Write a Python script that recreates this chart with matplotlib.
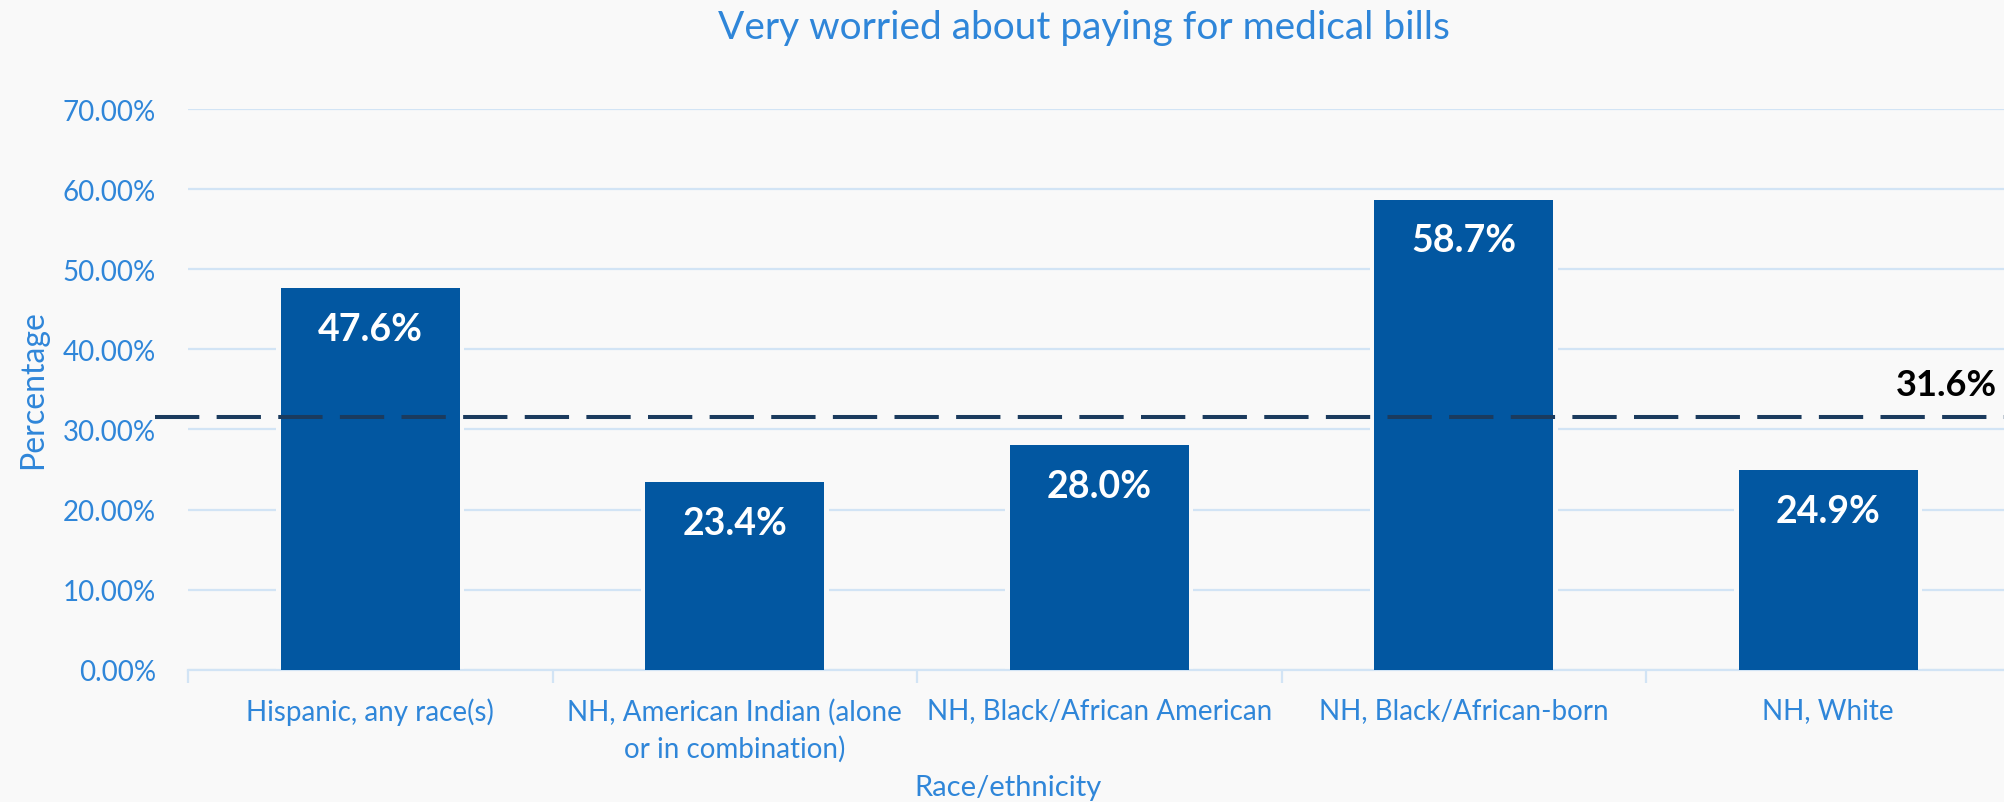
import matplotlib
matplotlib.use("Agg")
import matplotlib.pyplot as plt
from matplotlib.transforms import blended_transform_factory
from matplotlib.lines import Line2D
import numpy as np

categories = ["Hispanic, any race(s)",
              "NH, American Indian (alone\nor in combination)",
              "NH, Black/African American",
              "NH, Black/African-born",
              "NH, White"]
values = [47.6, 23.4, 28.0, 58.7, 24.9]
average = 31.6
yticks = [0, 10, 20, 30, 40, 50, 60, 70]

title = "Very worried about paying for medical bills"
xlabel = "Race/ethnicity"
ylabel = "Percentage"

BG = "#F9F9F9"
BAR = "#0257A1"
TXT = "#2F86D9"
GRID = "#D2E4F5"
DASH = "#1B3B5E"

plt.rcParams['font.family'] = ['Lato', 'DejaVu Sans']

W, H = 2004, 803
fig = plt.figure(figsize=(W / 100, H / 100), dpi=100, facecolor=BG)
ax = fig.add_axes([188 / W, 1 - 670.7 / H, 1822.5 / W, (670.7 - 110) / H])
ax.set_facecolor(BG)

x = np.arange(len(categories))
ax.bar(x, values, width=0.515, color=BG, zorder=2)
bars = ax.bar(x, values, width=0.49, color=BAR, zorder=3)

for xi, v in zip(x, values):
    ax.annotate(f"{v:.1f}%", (xi, v), xytext=(0, -29), textcoords="offset points",
                ha="center", va="center", color="white", fontsize=27, fontweight="bold", zorder=5)

ax.set_xlim(-0.5, len(categories) - 0.5)
ax.set_ylim(0, 70)
ax.set_yticks(yticks)
ax.set_yticklabels([f"{t:.2f}%" for t in yticks])
ax.yaxis.grid(True, color=GRID, linewidth=1.6, zorder=0)
ax.set_axisbelow(True)

ax.set_xticks(x)
ax.set_xticklabels(categories)
ax.set_xticks(np.arange(-0.5, len(categories)), minor=True)
ax.tick_params(axis="x", which="major", length=0, pad=20, labelsize=20, labelcolor=TXT)
ax.tick_params(axis="x", which="minor", length=9, width=1.6, color=GRID, direction="out")
ax.tick_params(axis="y", length=0, pad=23, labelsize=20, labelcolor=TXT)
for lab in ax.get_xticklabels():
    lab.set_linespacing(1.5)

for s in ["left", "right", "top"]:
    ax.spines[s].set_visible(False)
ax.spines["bottom"].set_color(GRID)
ax.spines["bottom"].set_linewidth(1.6)

# average dashed line
tr = blended_transform_factory(fig.transFigure, ax.transData)
ln = Line2D([155 / W, 1.0], [average, average], transform=tr, color=DASH,
            linewidth=2.9, dashes=(11, 4.3), zorder=6, clip_on=False)
fig.add_artist(ln)
ax.annotate(f"{average:.1f}%", xy=(1997 / W, average), xycoords=tr, xytext=(0, 23),
            textcoords="offset points", ha="right", va="center", fontsize=26,
            fontweight="bold", color="black", annotation_clip=False)

fig.text(1084 / W, 1 - 28 / H, title, ha="center", va="center", fontsize=28, color=TXT)
fig.text(1008 / W, 1 - 788 / H, xlabel, ha="center", va="center", fontsize=21, color=TXT)
fig.text(33 / W, 1 - 390 / H, ylabel, ha="center", va="center", rotation=90, fontsize=23, color=TXT)

fig.savefig("out.png", dpi=100, facecolor=BG)
